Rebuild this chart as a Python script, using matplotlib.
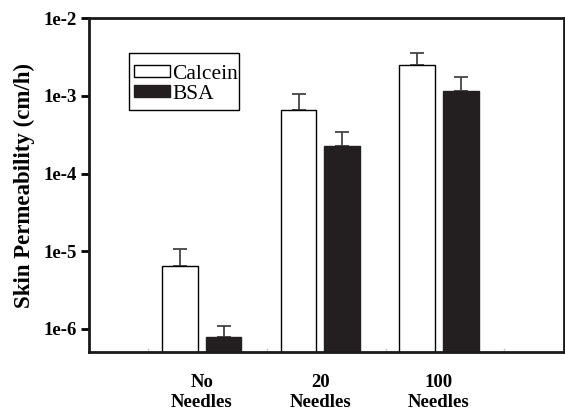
import numpy as np
import matplotlib
matplotlib.use("Agg")
import matplotlib.pyplot as plt
from matplotlib.patches import Rectangle
from matplotlib.ticker import FixedLocator, FixedFormatter

# Data
groups = ["No\nNeedles", "20\nNeedles", "100\nNeedles"]
calcein = [6.45e-6, 6.56e-4, 2.53e-3]
calcein_err = [1.07e-5, 1.07e-3, 3.55e-3]   # top of the error bar
bsa = [7.8e-7, 2.28e-4, 1.15e-3]
bsa_err = [1.1e-6, 3.45e-4, 1.76e-3]
ytick_vals = [1e-6, 1e-5, 1e-4, 1e-3, 1e-2]
ytick_labels = ["1e-6", "1e-5", "1e-4", "1e-3", "1e-2"]

plt.rcParams['font.family'] = ['Liberation Serif', 'DejaVu Serif']

fig = plt.figure(figsize=(5.65, 4.13), dpi=100)
ax = fig.add_axes([0.1575, 0.148, 0.84, 0.808])

x = np.arange(1, len(groups) + 1)
width = 0.30
off = 0.184
dark = '#231f20'

ax.bar(x - off, calcein, width, color='white', edgecolor='black', linewidth=1.0,
       label='Calcein', zorder=2)
ax.bar(x + off, bsa, width, color=dark, edgecolor=dark, linewidth=1.0,
       label='BSA', zorder=2)

# upper error bars only
for xs, vals, tops in [(x - off, calcein, calcein_err), (x + off, bsa, bsa_err)]:
    up = np.array(tops) - np.array(vals)
    ax.errorbar(xs, vals, yerr=[np.zeros_like(up), up], fmt='none',
                ecolor='#444444', elinewidth=1.3, capsize=5, capthick=1.3, zorder=1)

ax.set_yscale('log')
ax.set_ylim(5.05e-7, 1e-2)
ax.set_xlim(0.05, 4.05)

ax.yaxis.set_major_locator(FixedLocator(ytick_vals))
ax.yaxis.set_major_formatter(FixedFormatter(ytick_labels))
ax.yaxis.set_minor_locator(FixedLocator([]))
ax.tick_params(axis='y', which='major', direction='out', length=6, width=2,
               labelsize=13.5, pad=3)
for lbl in ax.get_yticklabels():
    lbl.set_fontweight('bold')

ax.set_xticks(x)
ax.set_xticklabels(groups, fontsize=13.5, fontweight='bold', linespacing=1.2)
ax.tick_params(axis='x', which='major', length=0, pad=16)
ax.set_xticks(np.arange(0.55, 4.0, 0.5), minor=True)
ax.tick_params(axis='x', which='minor', direction='in', length=3, width=1,
               color='#cccccc')

for side in ['left', 'bottom', 'top', 'right']:
    ax.spines[side].set_linewidth(2)
    ax.spines[side].set_color('#1a1a1a')

ax.set_ylabel('Skin Permeability (cm/h)', fontsize=16.5, fontweight='bold', labelpad=6)

# legend without its own frame, tight box drawn separately
leg = ax.legend(loc='upper left', bbox_to_anchor=(0.094, 0.861), fontsize=15.5,
                frameon=False, handlelength=1.7, handleheight=0.5,
                handletextpad=0.1, borderpad=0.0, labelspacing=0.05,
                borderaxespad=0)
ax.add_patch(Rectangle((0.084, 0.7246), 0.232, 0.1704, transform=ax.transAxes,
                       fill=False, edgecolor='black', linewidth=1.0, zorder=5))

fig.savefig('out.png', dpi=100)
